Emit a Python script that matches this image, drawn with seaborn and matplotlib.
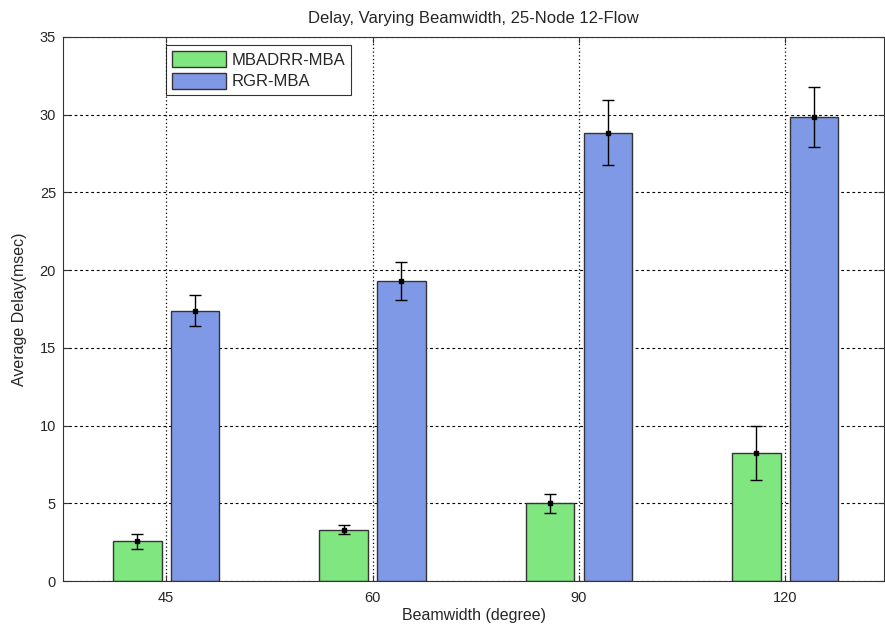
import matplotlib
matplotlib.use("Agg")
import matplotlib.pyplot as plt
import seaborn as sns
import pandas as pd
import numpy as np

# Beamwidth settings and measured delay per protocol
beamwidths = ["45", "60", "90", "120"]
protocols = ["MBADRR-MBA", "RGR-MBA"]
mbadrr_delay = [2.55, 3.30, 5.00, 8.25]
mbadrr_err = [0.50, 0.30, 0.60, 1.75]
rgr_delay = [17.40, 19.30, 28.85, 29.85]
rgr_err = [1.00, 1.20, 2.10, 1.90]

colors = ["#80E680", "#7F99E6"]

df = pd.DataFrame({
    "Beamwidth": beamwidths * 2,
    "Protocol": [protocols[0]] * 4 + [protocols[1]] * 4,
    "Delay": mbadrr_delay + rgr_delay,
})

sns.set_style("white")
plt.rcParams["font.family"] = ["Liberation Sans", "DejaVu Sans"]

fig = plt.figure(figsize=(8.85, 6.31), dpi=100)
ax = fig.add_axes([0.0712, 0.0792, 0.928, 0.8622])

sns.barplot(data=df, x="Beamwidth", y="Delay", hue="Protocol",
            order=beamwidths, hue_order=protocols, palette=colors,
            width=0.56, gap=0.16, errorbar=None, saturation=1,
            edgecolor="#333333", linewidth=1.0, ax=ax, zorder=2)

# error bars centred on each bar
means = [mbadrr_delay, rgr_delay]
errs = [mbadrr_err, rgr_err]
bar_groups = list(ax.containers)
for k, cont in enumerate(bar_groups):
    xs = [p.get_x() + p.get_width() / 2 for p in cont.patches]
    ax.errorbar(xs, means[k], yerr=errs[k], fmt="s", color="black",
                markersize=3.5, capsize=4.5, elinewidth=1.0, capthick=1.0, zorder=4)

ax.set_xlim(-0.5, 3.48)
ax.set_ylim(0, 35)
ax.set_yticks(np.arange(0, 36, 5))

ax.set_axisbelow(True)
ax.yaxis.grid(True, color="black", linestyle=(0, (2.5, 2.5)), linewidth=0.8)
ax.xaxis.grid(True, color="black", linestyle=(0, (1, 2)), linewidth=0.9)

for s in ax.spines.values():
    s.set_visible(True)
    s.set_color("#333333")
    s.set_linewidth(0.8)

ax.tick_params(axis="both", direction="in", length=4, labelsize=10.5,
               top=True, right=True, bottom=True, left=True, color="#333333")
ax.tick_params(axis="x", pad=7)
ax.tick_params(axis="y", pad=5)

ax.set_title("Delay, Varying Beamwidth, 25-Node 12-Flow", fontsize=12, pad=10)
ax.set_xlabel("Beamwidth (degree)", fontsize=11.5, labelpad=2)
ax.set_ylabel("Average Delay(msec)", fontsize=11.5, labelpad=9)

leg = ax.legend(loc="upper left", bbox_to_anchor=(0.126, 0.985), fontsize=12,
                frameon=True, fancybox=False, edgecolor="black",
                handlelength=3.2, handleheight=1.1, borderpad=0.35,
                labelspacing=0.3, handletextpad=0.35, borderaxespad=0)
leg.get_frame().set_linewidth(0.8)

fig.savefig("out.png", dpi=100)
